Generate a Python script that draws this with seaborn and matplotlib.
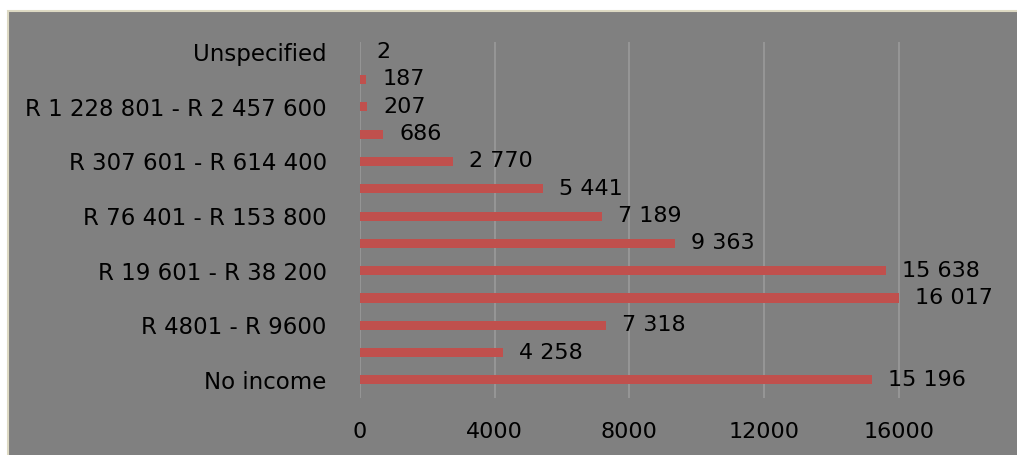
import matplotlib
matplotlib.use("Agg")
import matplotlib.pyplot as plt
from matplotlib.patches import Rectangle
import seaborn as sns
import pandas as pd

# Household income bands and number of households in each
income_bands = [
    "No income",
    "R 1 - R 4800",
    "R 4801 - R 9600",
    "R 9601 - R 19 600",
    "R 19 601 - R 38 200",
    "R 38 201 - R 76 400",
    "R 76 401 - R 153 800",
    "R 153 801 - R 307 600",
    "R 307 601 - R 614 400",
    "R 614 001 - R 1 228 800",
    "R 1 228 801 - R 2 457 600",
    "R 2 457 601 or more",
    "Unspecified",
]
households = [15196, 4258, 7318, 16017, 15638, 9363, 7189, 5441, 2770, 686, 207, 187, 2]
x_ticks = [0, 4000, 8000, 12000, 16000]

df = pd.DataFrame({"band": income_bands, "households": households})

sns.set_theme(style="white")
plt.rcParams["font.family"] = ["DejaVu Sans"]

W, H = 1017, 455
fig = plt.figure(figsize=(W / 100, H / 100), dpi=100, facecolor="white")

# grey panel behind the chart with a thin beige frame
panel = Rectangle((8 / W, -0.01), 1.0, (H - 11) / H + 0.01,
                  transform=fig.transFigure, facecolor="#808080",
                  edgecolor="#ddd9c3", linewidth=1.5, zorder=-10)
fig.add_artist(panel)

ax = fig.add_axes([360 / W, 1 - 398 / H, (966 - 360) / W, (398 - 42) / H])
ax.set_facecolor("none")
ax.set_zorder(5)

order = income_bands[::-1]  # Unspecified at the top, No income at the bottom
sns.barplot(data=df, x="households", y="band", order=order, orient="h",
            color="#c0504d", saturation=1, width=0.33, linewidth=0,
            edgecolor="none", ax=ax, zorder=3)

ax.set_xlim(0, 18000)
ax.set_ylim(len(order) - 1 + 0.66, -0.37)
ax.set_xticks(x_ticks)
ax.set_xticklabels([str(t) for t in x_ticks], fontsize=16, color="black")
ax.grid(axis="x", color="#9a9a9a", linewidth=1.2, zorder=1)
ax.grid(axis="y", visible=False)
ax.set_axisbelow(True)
for s in ax.spines.values():
    s.set_visible(False)
ax.tick_params(axis="x", length=0, pad=17)
ax.tick_params(axis="y", length=0, pad=24)

# label every other band, starting from "No income"
ylabels = [b if (income_bands.index(b) % 2 == 0) else "" for b in order]
ax.set_yticks(range(len(order)))
ax.set_yticklabels(ylabels, fontsize=16.5, color="black")
ax.set_xlabel("")
ax.set_ylabel("")

# value labels beside each bar, using a space as thousands separator
for i, band in enumerate(order):
    v = households[income_bands.index(band)]
    label = f"{v:,}".replace(",", " ")
    ax.annotate(label, xy=(v, i), xytext=(16, 0), textcoords="offset pixels",
                ha="left", va="center", fontsize=16, color="black",
                annotation_clip=False, zorder=4)

fig.savefig("out.png", dpi=100, facecolor=fig.get_facecolor())
